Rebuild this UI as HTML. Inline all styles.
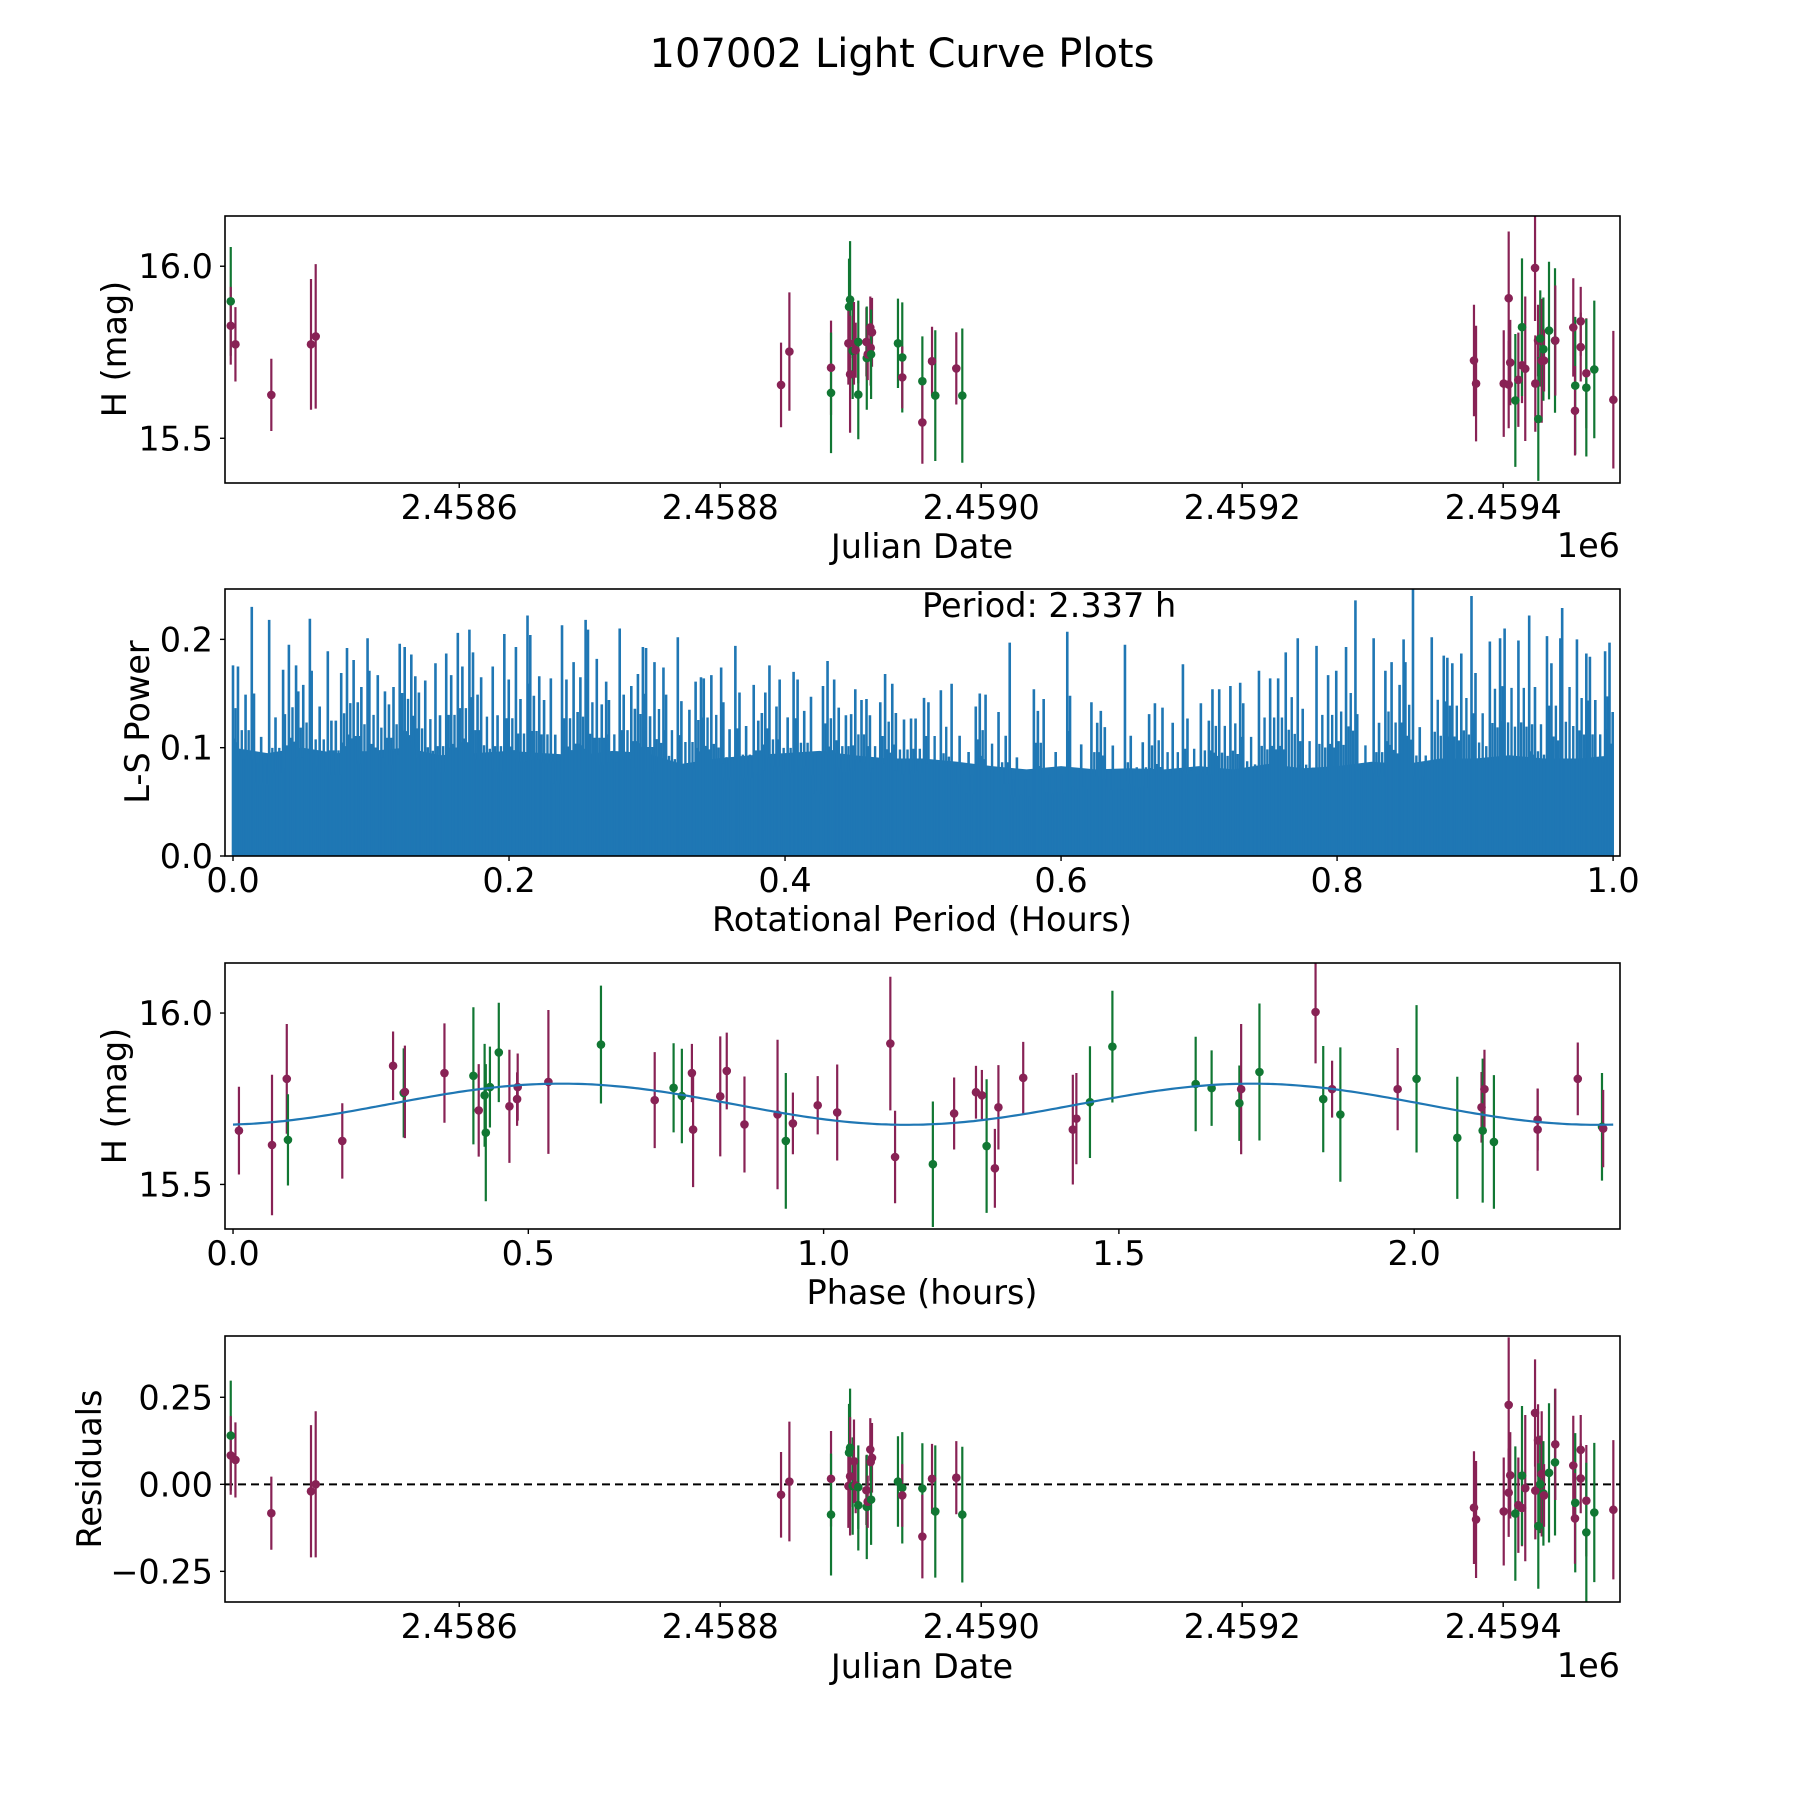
<!DOCTYPE html>
<html>
<head>
<meta charset="utf-8">
<style>
html,body{margin:0;padding:0;background:#fff;}
svg{display:block;}
text{font-family:"DejaVu Sans","Liberation Sans",sans-serif;fill:#000;}
</style>
</head>
<body>
<svg id="fig" xmlns="http://www.w3.org/2000/svg" width="1800" height="1800" viewBox="0 0 1800 1800">
<rect x="0" y="0" width="1800" height="1800" fill="#fff"/>
<text x="902" y="67" font-size="40" text-anchor="middle">107002 Light Curve Plots</text>
</svg>
<script>
// ---------- Data ----------
const jdValues = [2458424.9,2458424.9,2458428.5,2458456.0,2458486.4,2458490.0,
2458846.6,2458853.0,2458884.9,2458884.9,2458898.7,2458899.5,2458898.2,2458899.5,2458901.5,2458902.5,2458903.8,2458905.8,2458905.8,2458912.0,2458912.3,2458913.0,2458915.0,2458916.3,2458915.3,2458915.6,2458936.2,2458939.5,2458939.5,2458954.9,2458954.9,2458962.3,2458964.8,2458980.9,2458985.5,
2459377.6,2459379.2,2459400.4,2459404.2,2459404.2,2459405.4,2459409.3,2459411.6,2459414.4,2459414.4,2459416.9,2459424.4,2459424.6,2459426.7,2459428.4,2459426.9,2459429.5,2459430.8,2459431.3,2459435.1,2459439.7,2459439.9,2459453.7,2459455.2,2459455.0,2459459.4,2459459.4,2459463.7,2459463.7,2459469.8,2459484.4];
const magValues = [15.898,15.827,15.773,15.626,15.773,15.796,
15.655,15.752,15.705,15.632,15.882,15.903,15.776,15.686,15.754,15.776,15.756,15.78,15.627,15.78,15.733,15.744,15.822,15.808,15.763,15.744,15.776,15.735,15.677,15.666,15.546,15.724,15.624,15.703,15.624,
15.726,15.659,15.659,15.907,15.656,15.72,15.61,15.67,15.712,15.823,15.702,15.995,15.659,15.784,15.79,15.556,15.725,15.759,15.726,15.813,15.784,15.784,15.822,15.653,15.58,15.84,15.765,15.689,15.647,15.7,15.612];
const magErrors = [0.158,0.113,0.108,0.105,0.19,0.21,
0.123,0.172,0.137,0.175,0.14,0.17,0.12,0.17,0.14,0.12,0.08,0.12,0.13,0.10,0.15,0.075,0.09,0.10,0.11,0.13,0.13,0.16,0.09,0.13,0.12,0.10,0.19,0.105,0.195,
0.162,0.168,0.155,0.194,0.127,0.124,0.193,0.137,0.11,0.2,0.21,0.154,0.14,0.104,0.14,0.18,0.18,0.15,0.09,0.2,0.21,0.16,0.143,0.2,0.13,0.1,0.1,0.16,0.2,0.2,0.2];
const filterCodes = ['g','m','m','m','m','m',
'm','m','m','g','g','g','m','m','g','m','m','g','g','m','g','m','m','m','m','g','g','g','m','g','m','m','g','m','g',
'm','m','m','m','m','m','g','m','m','g','m','m','m','m','g','g','m','g','m','g','g','m','m','g','m','m','m','m','g','g','m'];
const residualValues = [0.14,0.083,0.07,-0.083,-0.02,0.0,
-0.03,0.008,0.016,-0.087,0.091,0.105,-0.005,0.023,-0.005,0.066,-0.003,-0.008,-0.06,-0.017,-0.065,-0.05,0.10,0.076,0.064,-0.044,0.008,-0.01,-0.032,-0.012,-0.15,0.016,-0.078,0.019,-0.087,
-0.067,-0.101,-0.078,0.228,-0.024,0.026,-0.084,-0.06,-0.068,0.025,-0.011,0.205,-0.018,0.126,0.0,-0.12,0.03,-0.026,-0.032,0.033,0.063,0.115,0.054,-0.053,-0.098,0.099,0.017,-0.047,-0.138,-0.081,-0.073];

const phaseValues = [0.010,0.066,0.091,0.093,0.185,0.271,0.289,0.291,0.358,0.407,0.416,0.426,0.428,0.435,0.450,0.468,0.481,0.482,0.534,0.623,0.714,0.746,0.760,0.777,0.779,0.825,0.836,0.866,0.922,0.936,0.948,0.990,1.023,1.113,1.121,
1.185,1.221,1.258,1.268,1.276,1.290,1.296,1.338,1.422,1.428,1.451,1.489,1.630,1.657,1.704,1.707,1.738,1.833,1.846,1.861,1.875,1.972,2.004,2.073,2.114,2.116,2.119,2.135,2.209,2.209,2.277,2.318,2.320];
const phaseMags = [15.657,15.615,15.808,15.63,15.627,15.846,15.767,15.77,15.825,15.817,15.716,15.76,15.651,15.784,15.885,15.728,15.749,15.784,15.799,15.908,15.746,15.782,15.758,15.825,15.66,15.757,15.831,15.675,15.704,15.627,15.678,15.731,15.71,15.911,15.58,
15.559,15.707,15.769,15.76,15.612,15.547,15.725,15.811,15.66,15.692,15.74,15.902,15.793,15.781,15.737,15.778,15.828,16.003,15.749,15.778,15.704,15.778,15.808,15.636,15.725,15.657,15.778,15.624,15.689,15.66,15.808,15.668,15.663];
const phaseErrors = [0.128,0.205,0.16,0.133,0.11,0.10,0.13,0.135,0.145,0.20,0.135,0.15,0.20,0.118,0.145,0.165,0.078,0.098,0.21,0.172,0.14,0.13,0.138,0.085,0.168,0.175,0.112,0.14,0.218,0.198,0.09,0.085,0.14,0.195,0.135,
0.183,0.105,0.077,0.074,0.195,0.115,0.123,0.105,0.16,0.133,0.163,0.163,0.138,0.11,0.11,0.19,0.20,0.15,0.155,0.083,0.196,0.12,0.215,0.178,0.103,0.21,0.115,0.195,0.09,0.12,0.106,0.157,0.113];
const phaseFilters = ['m','m','m','g','m','m','g','m','m','g','m','g','g','g','g','m','m','m','m','g','m','g','g','m','m','m','m','m','m','g','m','m','m','m','m',
'g','m','m','m','g','m','m','m','m','m','g','g','g','g','g','m','g','m','g','m','g','m','g','g','m','g','m','g','m','m','m','g','m'];

// Fit model parameters: mean, amplitude, peak phase, harmonic period (h)
const fitMean = [15.734];
const fitAmplitude = [0.06];
const fitPeakPhase = [0.556];
const fitHarmonicPeriod = [1.1685];
const rotationPeriod = [2.337];

// Periodogram peaks (period in hours, L-S power)
const lsPeakPeriods = [0.000,0.0036,0.0091,0.0136,0.0152,0.0204,0.0262,0.0308,0.0363,0.0376,0.0405,0.0457,0.0473,0.0509,0.0557,0.0570,0.0628,0.0687,0.0713,0.0745,0.0784,0.0826,0.0874,0.0904,0.0930,0.0975,0.0988,0.1049,0.1101,0.1130,0.1163,0.1208,0.1244,0.1292,0.1321,0.1347,0.1393,0.1467,0.1500,0.1545,0.1581,0.1629,0.1662,0.1713,0.1739,0.1772,0.1798,0.1882,0.1917,0.1966,0.1998,0.2050,0.2083,0.2134,0.2154,0.2180,0.2219,0.2254,0.2303,0.2335,0.2384,0.2416,0.2468,0.2497,0.2517,0.2555,0.2572,0.2636,0.2672,0.2704,0.2724,0.2802,0.2831,0.2886,0.2912,0.2934,0.2970,0.2993,0.3022,0.3054,0.3119,0.3138,0.3223,0.3249,0.3307,0.3352,0.3391,0.3411,0.3466,0.3537,0.3553,0.3598,0.3640,0.3670,0.3718,0.3773,0.3806,0.3832,0.3857,0.3887,0.3938,0.3961,0.4019,0.4062,0.4091,0.4139,0.4188,0.4217,0.4275,0.4308,0.4356,0.4389,0.4441,0.4479,0.4509,0.4554,0.4590,0.4615,0.4690,0.4725,0.4777,0.4803,0.4862,0.4913,0.4946,0.5007,
0.5039,0.5129,0.5207,0.5265,0.5330,0.5382,0.5411,0.5453,0.5547,0.5599,0.5628,0.5680,0.5803,0.5832,0.5874,0.5961,0.6045,0.6065,0.6146,0.6220,0.6262,0.6288,0.6317,0.6375,0.6463,0.6505,0.6592,0.6638,0.6680,0.6735,0.6809,0.6883,0.6916,0.7013,0.7071,0.7097,0.7146,0.7227,0.7298,0.7320,0.7434,0.7515,0.7573,0.7628,0.7715,0.7751,0.7851,0.7935,0.7994,0.8065,0.8133,0.8146,0.8265,0.8304,0.8350,0.8395,0.8453,0.8482,0.8495,0.8550,0.8599,0.8686,0.8773,0.8799,0.8835,0.8900,0.8974,0.9003,0.9107,0.9181,0.9214,0.9314,0.9392,0.9434,0.9521,0.9553,0.9618,0.9631,0.9738,0.9806,0.9832,0.9871,0.9942,0.9974,0.9997];
const lsPeakPowers = [0.176,0.175,0.149,0.230,0.150,0.110,0.218,0.128,0.172,0.131,0.195,0.176,0.152,0.158,0.219,0.171,0.138,0.189,0.125,0.125,0.169,0.192,0.181,0.142,0.156,0.201,0.171,0.167,0.152,0.140,0.156,0.196,0.193,0.186,0.166,0.151,0.162,0.178,0.130,0.187,0.167,0.206,0.175,0.209,0.188,0.149,0.165,0.175,0.130,0.205,0.163,0.193,0.145,0.222,0.204,0.148,0.166,0.144,0.164,0.112,0.213,0.163,0.179,0.133,0.165,0.218,0.209,0.182,0.140,0.161,0.144,0.210,0.149,0.157,0.136,0.168,0.193,0.192,0.129,0.179,0.174,0.149,0.202,0.143,0.135,0.161,0.165,0.164,0.167,0.174,0.142,0.117,0.194,0.151,0.120,0.158,0.125,0.132,0.151,0.176,0.138,0.163,0.128,0.170,0.163,0.134,0.147,0.096,0.157,0.180,0.163,0.137,0.130,0.131,0.154,0.144,0.145,0.130,0.142,0.168,0.159,0.132,0.126,0.127,0.127,0.146,
0.142,0.153,0.159,0.111,0.096,0.138,0.150,0.149,0.133,0.111,0.197,0.091,0.154,0.134,0.145,0.096,0.207,0.148,0.103,0.142,0.123,0.134,0.119,0.102,0.195,0.111,0.105,0.131,0.141,0.137,0.123,0.177,0.127,0.141,0.125,0.154,0.154,0.157,0.160,0.141,0.171,0.164,0.164,0.188,0.201,0.136,0.194,0.167,0.171,0.193,0.236,0.131,0.201,0.123,0.171,0.179,0.158,0.200,0.179,0.2465,0.119,0.202,0.185,0.183,0.178,0.187,0.240,0.169,0.198,0.201,0.210,0.199,0.222,0.156,0.203,0.178,0.201,0.229,0.200,0.187,0.184,0.144,0.189,0.197,0.133];
// Dense lower band of the periodogram (sampled every 0.025 h)
const lsFloorPeriods = [0,0.025,0.05,0.075,0.1,0.125,0.15,0.175,0.2,0.225,0.25,0.275,0.3,0.325,0.35,0.375,0.4,0.425,0.45,0.475,0.5,0.525,0.55,0.575,0.6,0.625,0.65,0.675,0.7,0.725,0.75,0.775,0.8,0.825,0.85,0.875,0.9,0.925,0.95,0.975,1.0];
const lsFloorPowers = [0.1,0.095,0.1,0.095,0.097,0.1,0.093,0.095,0.097,0.095,0.093,0.097,0.095,0.085,0.09,0.093,0.095,0.097,0.093,0.09,0.09,0.087,0.083,0.08,0.083,0.08,0.081,0.08,0.083,0.08,0.085,0.081,0.083,0.087,0.085,0.09,0.09,0.093,0.09,0.09,0.093];

// ---------- Helpers ----------
const NS = 'http://www.w3.org/2000/svg';
const svg = document.getElementById('fig');
function mk(tag, attrs, parent) {
  const e = document.createElementNS(NS, tag);
  for (const k in attrs) e.setAttribute(k, attrs[k]);
  (parent || svg).appendChild(e);
  return e;
}
function scale(d0, d1, p0, p1) { return v => p0 + (v - d0) * (p1 - p0) / (d1 - d0); }
const COLORS = { m: '#882255', g: '#117733' };
const FS = 33.5;
const L = 225, R = 1620;

function frame(top, bot, name) {
  const r = mk('rect', { x: L, y: top, width: R - L, height: bot - top, fill: 'none', stroke: '#000', 'stroke-width': 1.6 });
  
  
}
function xTicks(ticks, labels, xs, bot, name) {
  ticks.forEach((t, i) => {
    const x = xs(t);
    const ln = mk('line', { x1: x, x2: x, y1: bot, y2: bot + 5, stroke: '#000', 'stroke-width': 1.4 });
    
    
    const tx = mk('text', { x: x, y: bot + 36, 'font-size': FS, 'text-anchor': 'middle' });
    tx.textContent = labels[i];
    
    
  });
}
function yTicks(ticks, labels, ys, name) {
  ticks.forEach((t, i) => {
    const y = ys(t);
    const ln = mk('line', { x1: L - 5, x2: L, y1: y, y2: y, stroke: '#000', 'stroke-width': 1.4 });
    
    
    const tx = mk('text', { x: L - 12, y: y + 12, 'font-size': FS, 'text-anchor': 'end' });
    tx.textContent = labels[i];
    
    
  });
}
function label(txt, x, y, rot, name) {
  const t = mk('text', { x: x, y: y, 'font-size': FS, 'text-anchor': 'middle' });
  if (rot) t.setAttribute('transform', 'rotate(-90 ' + x + ' ' + y + ')');
  t.textContent = txt;
  
  
  return t;
}
function errorbars(xv, yv, ev, cv, xs, ys, name, top, bot) {
  const g = mk('g', {});
  
  
  for (let i = 0; i < xv.length; i++) {
    const x = xs(xv[i]);
    const y1 = Math.max(top, ys(yv[i] + ev[i])), y2 = Math.min(bot, ys(yv[i] - ev[i]));
    const ln = mk('line', { x1: x, x2: x, y1: y1, y2: y2, stroke: COLORS[cv[i]], 'stroke-width': 2.2 }, g);
    
    
  }
  for (let i = 0; i < xv.length; i++) {
    const c = mk('circle', { cx: xs(xv[i]), cy: ys(yv[i]), r: 4.3, fill: COLORS[cv[i]] }, g);
    
    
  }
}

// ---------- Panel 1: light curve vs JD ----------
(function () {
  const top = 216, bot = 483;
  const xs = scale(2458420.5, 2459489.5, L, R);
  const ys = scale(15.37, 16.146, bot, top);
  errorbars(jdValues, magValues, magErrors, filterCodes, xs, ys, 'lightcurve-points', top, bot);
  frame(top, bot, 'lightcurve');
  xTicks([2458600, 2458800, 2459000, 2459200, 2459400], ['2.4586', '2.4588', '2.4590', '2.4592', '2.4594'], xs, bot, 'lightcurve');
  yTicks([15.5, 16.0], ['15.5', '16.0'], ys, 'lightcurve');
  label('Julian Date', 922, 558, false, 'lightcurve-x-axis-title');
  label('H (mag)', 126, 349, true, 'lightcurve-y-axis-title');
  const off = mk('text', { x: R, y: 557, 'font-size': FS, 'text-anchor': 'end' });
  off.textContent = '1e6';
  
  
})();

// ---------- Panel 2: periodogram ----------
(function () {
  const top = 589, bot = 856;
  const xs = scale(-0.0058, 1.005, L, R);
  const ys = scale(0, 0.2465, bot, top);
  const g = mk('g', {});
  
  
  let pts = xs(lsFloorPeriods[0]) + ',' + ys(0);
  for (let i = 0; i < lsFloorPeriods.length; i++) pts += ' ' + xs(lsFloorPeriods[i]) + ',' + ys(lsFloorPowers[i]);
  pts += ' ' + xs(lsFloorPeriods[lsFloorPeriods.length - 1]) + ',' + ys(0);
  const poly = mk('polygon', { points: pts, fill: '#1f77b4' }, g);
  
  
  for (let i = 0; i < lsPeakPeriods.length; i++) {
    const x = xs(lsPeakPeriods[i]);
    const ln = mk('line', { x1: x, x2: x, y1: ys(0), y2: ys(lsPeakPowers[i]), stroke: '#1f77b4', 'stroke-width': 2.6 }, g);
    
    
    if (i > 0) {
      const xp = xs(lsPeakPeriods[i - 1]);
      const lo = Math.min(lsPeakPowers[i], lsPeakPowers[i - 1]);
      const fr = [0.25, 0.5, 0.75], hf = [0.62, 0.78, 0.6];
      for (let k = 0; k < 3; k++) {
        const xm = xp + (x - xp) * fr[k];
        const l2 = mk('line', { x1: xm, x2: xm, y1: ys(0), y2: ys(lo * hf[k]), stroke: '#1f77b4', 'stroke-width': 2.4 }, g);
        
        
      }
    }
  }
  frame(top, bot, 'periodogram');
  xTicks([0, 0.2, 0.4, 0.6, 0.8, 1.0], ['0.0', '0.2', '0.4', '0.6', '0.8', '1.0'], xs, bot, 'periodogram');
  yTicks([0, 0.1, 0.2], ['0.0', '0.1', '0.2'], ys, 'periodogram');
  label('Rotational Period (Hours)', 922, 931, false, 'periodogram-x-axis-title');
  label('L-S Power', 149, 722, true, 'periodogram-y-axis-title');
  const pt = mk('text', { x: 922, y: 617, 'font-size': FS, 'text-anchor': 'start' });
  pt.textContent = 'Period: ' + rotationPeriod[0].toFixed(3) + ' h';
  
  
})();

// ---------- Panel 3: phase-folded ----------
(function () {
  const top = 963, bot = 1229;
  const xs = scale(-0.0136, 2.3485, L, R);
  const ys = scale(15.37, 16.146, bot, top);
  errorbars(phaseValues, phaseMags, phaseErrors, phaseFilters, xs, ys, 'phase-points', top, bot);
  let d = '';
  for (let k = 0; k <= 300; k++) {
    const p = rotationPeriod[0] * k / 300;
    const h = fitMean[0] + fitAmplitude[0] * Math.cos(2 * Math.PI * (p - fitPeakPhase[0]) / fitHarmonicPeriod[0]);
    d += (k ? 'L' : 'M') + xs(p).toFixed(1) + ' ' + ys(h).toFixed(1);
  }
  const fit = mk('path', { d: d, fill: 'none', stroke: '#1f77b4', 'stroke-width': 2.2 });
  
  
  frame(top, bot, 'phase');
  xTicks([0, 0.5, 1.0, 1.5, 2.0], ['0.0', '0.5', '1.0', '1.5', '2.0'], xs, bot, 'phase');
  yTicks([15.5, 16.0], ['15.5', '16.0'], ys, 'phase');
  label('Phase (hours)', 922, 1304, false, 'phase-x-axis-title');
  label('H (mag)', 126, 1096, true, 'phase-y-axis-title');
})();

// ---------- Panel 4: residuals ----------
(function () {
  const top = 1336, bot = 1602;
  const xs = scale(2458420.5, 2459489.5, L, R);
  const ys = scale(-0.338, 0.426, bot, top);
  const zl = mk('line', { x1: L, x2: R, y1: ys(0), y2: ys(0), stroke: '#000', 'stroke-width': 2, 'stroke-dasharray': '8,5' });
  
  
  errorbars(jdValues, residualValues, magErrors, filterCodes, xs, ys, 'residual-points', top, bot);
  frame(top, bot, 'residuals');
  xTicks([2458600, 2458800, 2459000, 2459200, 2459400], ['2.4586', '2.4588', '2.4590', '2.4592', '2.4594'], xs, bot, 'residuals');
  yTicks([-0.25, 0, 0.25], ['\u22120.25', '0.00', '0.25'], ys, 'residuals');
  label('Julian Date', 922, 1678, false, 'residuals-x-axis-title');
  label('Residuals', 101, 1469, true, 'residuals-y-axis-title');
  const off = mk('text', { x: R, y: 1677, 'font-size': FS, 'text-anchor': 'end' });
  off.textContent = '1e6';
  
  
})();
</script>
</body>
</html>
